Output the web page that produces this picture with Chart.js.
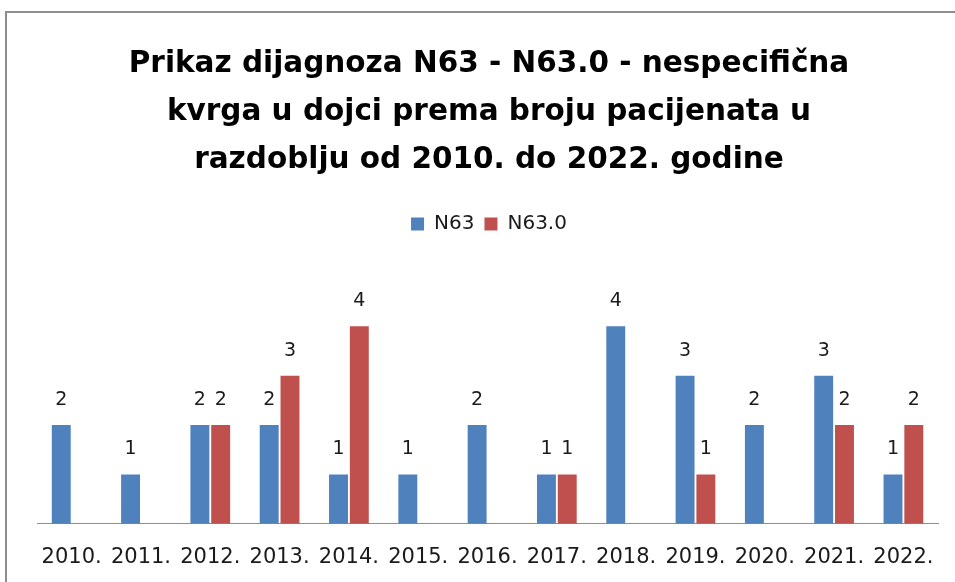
<!DOCTYPE html>
<html>
<head>
<meta charset="utf-8">
<script src="https://cdn.jsdelivr.net/npm/chart.js@4/dist/chart.umd.min.js"></script>
<style>
html,body{margin:0;padding:0;background:#fff;}
#wrap{position:relative;width:955px;height:582px;}
#frame{position:absolute;left:5px;top:11px;right:0;bottom:0;border-top:2px solid #8e8e8e;border-left:2px solid #8e8e8e;}
canvas{position:absolute;left:0;top:0;}
</style>
</head>
<body>
<div id="wrap"><div id="frame"></div><canvas id="c" width="955" height="582"></canvas></div>
<script>
const categories = ["2010.","2011.","2012.","2013.","2014.","2015.","2016.","2017.","2018.","2019.","2020.","2021.","2022."];
const seriesN63 = [2,1,2,2,1,1,2,1,4,3,2,3,1];
const seriesN630 = [null,null,2,3,4,null,null,1,null,1,null,2,2];
const titleLines = ["Prikaz dijagnoza N63 - N63.0 - nespecifična","kvrga u dojci prema broju pacijenata u","razdoblju od 2010. do 2022. godine"];

const FONT = "'DejaVu Sans', sans-serif";

const legendMargin = {
  id:'legendMargin',
  beforeInit(chart){
    const orig = chart.legend.fit;
    chart.legend.fit = function(){ orig.bind(chart.legend)(); this.height += 33; };
  }
};
const valueLabels = {
  id:'valueLabels',
  afterDatasetsDraw(chart){
    const ctx = chart.ctx;
    ctx.save();
    ctx.font = "19px " + FONT;
    ctx.fillStyle = "#1a1a1a";
    ctx.textAlign = "center";
    ctx.textBaseline = "middle";
    chart.data.datasets.forEach((ds,i)=>{
      const meta = chart.getDatasetMeta(i);
      meta.data.forEach((bar,j)=>{
        const v = ds.data[j];
        if(v===null||v===undefined) return;
        ctx.fillText(String(v), bar.x, bar.y - 25);
      });
    });
    ctx.restore();
  }
};

new Chart(document.getElementById('c'), {
  type:'bar',
  data:{
    labels:categories,
    datasets:[
      {label:'N63', data:seriesN63, backgroundColor:'#4F81BD', categoryPercentage:0.6, barPercentage:0.91},
      {label:'N63.0', data:seriesN630, backgroundColor:'#C0504D', categoryPercentage:0.6, barPercentage:0.91}
    ]
  },
  options:{
    responsive:false,
    animation:false,
    layout:{padding:{top:14,left:37,right:14,bottom:-9}},
    plugins:{
      title:{display:true,text:titleLines,color:'#000',font:{family:FONT,size:29.5,weight:'bold',lineHeight:1.627},padding:{top:26,bottom:20}},
      legend:{display:true,labels:{color:'#1a1a1a',font:{family:FONT,size:20},boxWidth:13,boxHeight:13,padding:10}},
      tooltip:{enabled:false}
    },
    scales:{
      x:{grid:{display:false,drawTicks:false},border:{display:true,color:'#8e8e8e',width:1},ticks:{color:'#1a1a1a',font:{family:FONT,size:21},padding:21,maxRotation:0,autoSkip:false}},
      y:{display:false,min:0,max:5}
    }
  },
  plugins:[legendMargin,valueLabels]
});
</script>
</body>
</html>
